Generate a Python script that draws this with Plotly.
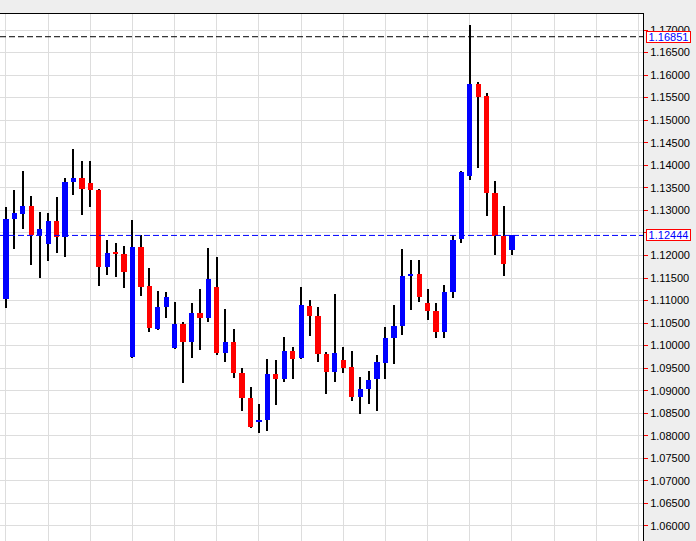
import plotly.graph_objects as go

# Candle data (index -1 is the partially visible candle at the left edge)
candle_index = list(range(-1, 61))
open_ = [1.1208, 1.1103, 1.1281, 1.1292, 1.1310, 1.1245, 1.1225, 1.1276, 1.1241, 1.1363,
         1.1372, 1.1361, 1.1345, 1.1174, 1.1206, 1.1203, 1.0975, 1.1219, 1.1132, 1.1037,
         1.1086, 1.0995, 1.1048, 1.1008, 1.1072, 1.1061, 1.1130, 1.0984, 1.1008, 1.0939,
         1.0884, 1.0831, 1.0835, 1.0937, 1.0926, 1.0988, 1.0973, 1.1088, 1.1066, 1.0981,
         1.0942, 1.0968, 1.0953, 1.0886, 1.0904, 1.0926, 1.0962, 1.1017, 1.1044, 1.1154,
         1.1159, 1.1095, 1.1077, 1.1030, 1.1119, 1.1237, 1.1376, 1.1580, 1.1554, 1.1339,
         1.1243, 1.1212]
high = [1.1225, 1.1308, 1.1345, 1.1387, 1.1332, 1.1296, 1.1294, 1.1330, 1.1372, 1.1436,
        1.1409, 1.1409, 1.1347, 1.1234, 1.1228, 1.1221, 1.1279, 1.1245, 1.1172, 1.1121,
        1.1119, 1.1097, 1.1052, 1.1095, 1.1126, 1.1217, 1.1197, 1.1081, 1.1037, 1.0950,
        1.0908, 1.0871, 1.0970, 1.0968, 1.1019, 1.0997, 1.1130, 1.1101, 1.1086, 1.0986,
        1.1115, 1.0997, 1.0988, 1.0930, 1.0944, 1.0979, 1.1041, 1.1090, 1.1214, 1.1190,
        1.1190, 1.1126, 1.1095, 1.1134, 1.1245, 1.1387, 1.1711, 1.1585, 1.1560, 1.1365,
        1.1310, 1.1245]
low = [1.1095, 1.1084, 1.1214, 1.1259, 1.1179, 1.1150, 1.1188, 1.1205, 1.1197, 1.1334,
       1.1290, 1.1308, 1.1132, 1.1157, 1.1152, 1.1128, 1.0973, 1.1110, 1.1030, 1.1035,
       1.1061, 1.0993, 1.0917, 1.0973, 1.0990, 1.1052, 1.0979, 1.0964, 1.0928, 1.0855,
       1.0817, 1.0806, 1.0811, 1.0868, 1.0919, 1.0926, 1.0970, 1.1021, 1.0964, 1.0893,
       1.0919, 1.0939, 1.0877, 1.0848, 1.0871, 1.0855, 1.0926, 1.0959, 1.1024, 1.1079,
       1.1097, 1.1057, 1.1017, 1.1017, 1.1106, 1.1228, 1.1367, 1.1394, 1.1288, 1.1201,
       1.1154, 1.1201]
close = [1.1112, 1.1281, 1.1294, 1.1310, 1.1245, 1.1259, 1.1276, 1.1241, 1.1363, 1.1372,
         1.1347, 1.1345, 1.1174, 1.1205, 1.1204, 1.1163, 1.1219, 1.1130, 1.1039, 1.1086,
         1.1108, 1.1048, 1.1008, 1.1072, 1.1061, 1.1148, 1.0984, 1.1008, 1.0939, 1.0884,
         1.0820, 1.0835, 1.0937, 1.0926, 1.0988, 1.0970, 1.1090, 1.1066, 1.0981, 1.0942,
         1.0984, 1.0950, 1.0886, 1.0904, 1.0924, 1.0964, 1.1017, 1.1044, 1.1154, 1.1159,
         1.1108, 1.1077, 1.1030, 1.1119, 1.1234, 1.1385, 1.1580, 1.1551, 1.1339, 1.1243,
         1.1181, 1.12444]

# Horizontal price levels
level_prices = [1.16851, 1.12444]
level_colors = ['#000000', '#0000ff']

# Axis ticks
y_ticks = [round(1.06 + 0.005 * k, 3) for k in range(23)]
y_tick_labels = [f"{v:.5f}" for v in y_ticks]
x_grid = list(range(0, 80, 5))

BULL = '#0000ff'
BEAR = '#ff0000'
FONT = 'Liberation Sans, Arial, sans-serif'

fig = go.Figure()

# wicks
fig.add_trace(go.Bar(
    x=candle_index, y=[h - l for h, l in zip(high, low)], base=low,
    width=0.12, marker=dict(color='#000000', line=dict(width=0)),
    hoverinfo='skip', showlegend=False))

bx, by, bb, bc = [], [], [], []
for i, o, c in zip(candle_index, open_, close):
    lo, hi = min(o, c), max(o, c)
    h = max(hi - lo, 0.00025)
    bx.append(i)
    by.append(h)
    bb.append(lo if hi - lo >= 0.00025 else (lo + hi) / 2 - 0.000125)
    bc.append(BULL if c >= o else BEAR)

fig.add_trace(go.Bar(
    x=bx, y=by, base=bb, width=0.62,
    marker=dict(color=bc, line=dict(width=0)),
    hoverinfo='skip', showlegend=False))

shapes = []
annotations = []
for p, col in zip(level_prices, level_colors):
    shapes.append(dict(type='line', xref='paper', x0=0, x1=1, yref='y', y0=p, y1=p,
                       line=dict(color=col, width=1, dash='6px,3px'), layer='above'))
    annotations.append(dict(xref='paper', x=1, xanchor='left', xshift=3,
                            yref='y', y=p, yanchor='middle', showarrow=False,
                            text=f"{p:.5f}", font=dict(family=FONT, size=11, color='#0000ff'),
                            bgcolor='#ffffff', bordercolor='#ff0000', borderwidth=1,
                            borderpad=0, width=43, height=10))

fig.update_layout(
    width=696, height=541,
    margin=dict(l=0, r=53, t=14, b=0, pad=0),
    paper_bgcolor='#eeeeee', plot_bgcolor='#ffffff',
    barmode='overlay', bargap=0,
    showlegend=False,
    shapes=shapes, annotations=annotations,
    font=dict(family=FONT, size=11, color='#000000'),
    xaxis=dict(range=[-0.71, 75.54], tickvals=x_grid, showticklabels=False,
               showgrid=True, gridcolor='#dddddd', gridwidth=1,
               zeroline=False, side='top', showline=True, linecolor='#000000',
               linewidth=1, ticks=''),
    yaxis=dict(range=[1.05667, 1.17355], side='right', tickvals=y_ticks,
               ticktext=y_tick_labels, showgrid=True, gridcolor='#dddddd',
               gridwidth=1, zeroline=False, showline=True, linecolor='#000000',
               linewidth=1, ticks='outside', ticklen=4, tickcolor='#ff0000',
               tickwidth=1, tickfont=dict(family=FONT, size=11, color='#000000')),
)

fig.write_html("out.html", config={'displayModeBar': False},
               post_script="document.body.style.margin='0';")
